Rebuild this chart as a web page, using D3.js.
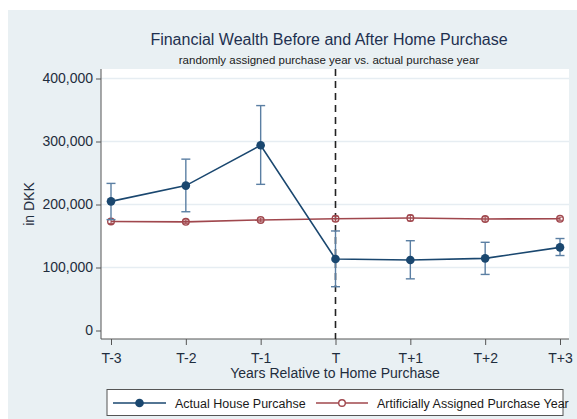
<!DOCTYPE html>
<html><head><meta charset="utf-8">
<script src="https://cdn.jsdelivr.net/npm/d3@7"></script>
<style>body{margin:0;background:#fff}svg{display:block;font-family:"Liberation Sans",Arial,sans-serif}</style>
</head><body><svg id="c" width="577" height="419"></svg>
<script>
const categories = ["T-3","T-2","T-1","T","T+1","T+2","T+3"];
const actual = [205000, 230000, 294000, 113500, 112000, 114500, 132000];
const actualLo = [176000, 188500, 232000, 69500, 82000, 89000, 119000];
const actualHi = [233500, 272000, 357000, 158000, 142500, 140000, 146000];
const assigned = [173000, 172500, 175500, 177500, 178500, 177000, 177500];
const assignedLo = [170000, 169500, 172500, 173500, 174000, 173500, 175000];
const assignedHi = [176000, 175500, 178500, 181500, 183000, 180500, 180000];
const yTicks = [0, 100000, 200000, 300000, 400000];
const seriesNames = ["Actual House Purcahse", "Artificially Assigned Purchase Year"];

const svg = d3.select("#c");
const blue = "#1a476f", red = "#a0474d", ebBlue = "#5b7fa3";
svg.append("rect").attr("x",8).attr("y",10).attr("width",569).attr("height",409).attr("fill","#e9f0f3");
const L=101, R=569, T=69, B=339;
svg.append("rect").attr("x",L).attr("y",T).attr("width",R-L).attr("height",B-T).attr("fill","#fff");

const x = d3.scalePoint().domain(categories).range([111,560]);
const y = d3.scaleLinear().domain([0,400000]).range([330.5,78.5]);

// grid
svg.append("g").selectAll("line").data(yTicks.filter(d=>d>0)).join("line")
  .attr("x1",L).attr("x2",R).attr("y1",d=>y(d)).attr("y2",d=>y(d))
  .attr("stroke","#e6edf2").attr("stroke-width",1.3);

// axes
const ya = svg.append("g").attr("transform",`translate(${L},0)`)
  .call(d3.axisLeft(y).tickValues(yTicks).tickFormat(d3.format(",")).tickSize(5).tickSizeOuter(0));
ya.select(".domain").attr("d",`M0,${T}V${B}`).attr("stroke","#555");
ya.selectAll(".tick line").attr("stroke","#555");
ya.selectAll(".tick text").attr("font-size",14).attr("fill","#1f2d3d").attr("x",-8);

const xa = svg.append("g").attr("transform",`translate(0,${B})`)
  .call(d3.axisBottom(x).tickSize(6).tickSizeOuter(0));
xa.select(".domain").attr("d",`M${L},0H${R}`).attr("stroke","#555");
xa.selectAll(".tick line").attr("stroke","#555");
xa.selectAll(".tick text").attr("font-size",14).attr("fill","#1f2d3d").attr("dy","1.05em");

// dashed vertical
svg.append("line").attr("x1",x("T")).attr("x2",x("T")).attr("y1",T).attr("y2",B)
  .attr("stroke","#222").attr("stroke-width",1.6).attr("stroke-dasharray","7,5");

// titles
svg.append("text").attr("x",329).attr("y",45).attr("text-anchor","middle").attr("font-size",16).attr("fill","#1e3050")
  .text("Financial Wealth Before and After Home Purchase");
svg.append("text").attr("x",329).attr("y",64).attr("text-anchor","middle").attr("font-size",11.5).attr("fill","#1a1a1a")
  .text("randomly assigned purchase year vs. actual purchase year");
svg.append("text").attr("transform","translate(34,204) rotate(-90)").attr("text-anchor","middle").attr("font-size",14).attr("fill","#1f2d3d")
  .text("in DKK");
svg.append("text").attr("x",335).attr("y",378).attr("text-anchor","middle").attr("font-size",14).attr("fill","#1f2d3d")
  .text("Years Relative to Home Purchase");

const line = d3.line().x((d,i)=>x(categories[i])).y(d=>y(d));

// red series
const rg = svg.append("g");
categories.forEach((c,i)=>{
  rg.append("line").attr("x1",x(c)).attr("x2",x(c)).attr("y1",y(assignedLo[i])).attr("y2",y(assignedHi[i])).attr("stroke",red).attr("stroke-width",1);
  [assignedLo[i],assignedHi[i]].forEach(v=>rg.append("line").attr("x1",x(c)-3).attr("x2",x(c)+3).attr("y1",y(v)).attr("y2",y(v)).attr("stroke",red).attr("stroke-width",1));
});
rg.append("path").attr("d",line(assigned)).attr("fill","none").attr("stroke",red).attr("stroke-width",1.6);
rg.selectAll("circle").data(assigned).join("circle").attr("cx",(d,i)=>x(categories[i])).attr("cy",d=>y(d)).attr("r",3.3)
  .attr("fill","none").attr("stroke",red).attr("stroke-width",1.4);

// blue series
const bg = svg.append("g");
categories.forEach((c,i)=>{
  bg.append("line").attr("x1",x(c)).attr("x2",x(c)).attr("y1",y(actualLo[i])).attr("y2",y(actualHi[i])).attr("stroke",ebBlue).attr("stroke-width",1.4);
  [actualLo[i],actualHi[i]].forEach(v=>bg.append("line").attr("x1",x(c)-4.5).attr("x2",x(c)+4.5).attr("y1",y(v)).attr("y2",y(v)).attr("stroke",ebBlue).attr("stroke-width",1.4));
});
bg.append("path").attr("d",line(actual)).attr("fill","none").attr("stroke",blue).attr("stroke-width",1.6);
bg.selectAll("circle").data(actual).join("circle").attr("cx",(d,i)=>x(categories[i])).attr("cy",d=>y(d)).attr("r",4.3)
  .attr("fill",blue);

// legend
const lg = svg.append("g");
lg.append("rect").attr("x",107).attr("y",389.5).attr("width",456).attr("height",26).attr("fill","#fff").attr("stroke","#555").attr("stroke-width",1);
lg.append("line").attr("x1",113).attr("x2",166).attr("y1",403).attr("y2",403).attr("stroke",blue).attr("stroke-width",1.6);
lg.append("circle").attr("cx",139.5).attr("cy",403).attr("r",4.3).attr("fill",blue);
lg.append("text").attr("x",175).attr("y",407.5).attr("font-size",12.5).attr("fill","#1a1a1a").text(seriesNames[0]);
lg.append("line").attr("x1",316).attr("x2",368).attr("y1",403).attr("y2",403).attr("stroke",red).attr("stroke-width",1.6);
lg.append("circle").attr("cx",342).attr("cy",403).attr("r",3.3).attr("fill","#fff").attr("stroke",red).attr("stroke-width",1.4);
lg.append("text").attr("x",377).attr("y",407.5).attr("font-size",12.5).attr("fill","#1a1a1a").text(seriesNames[1]);
</script></body></html>
